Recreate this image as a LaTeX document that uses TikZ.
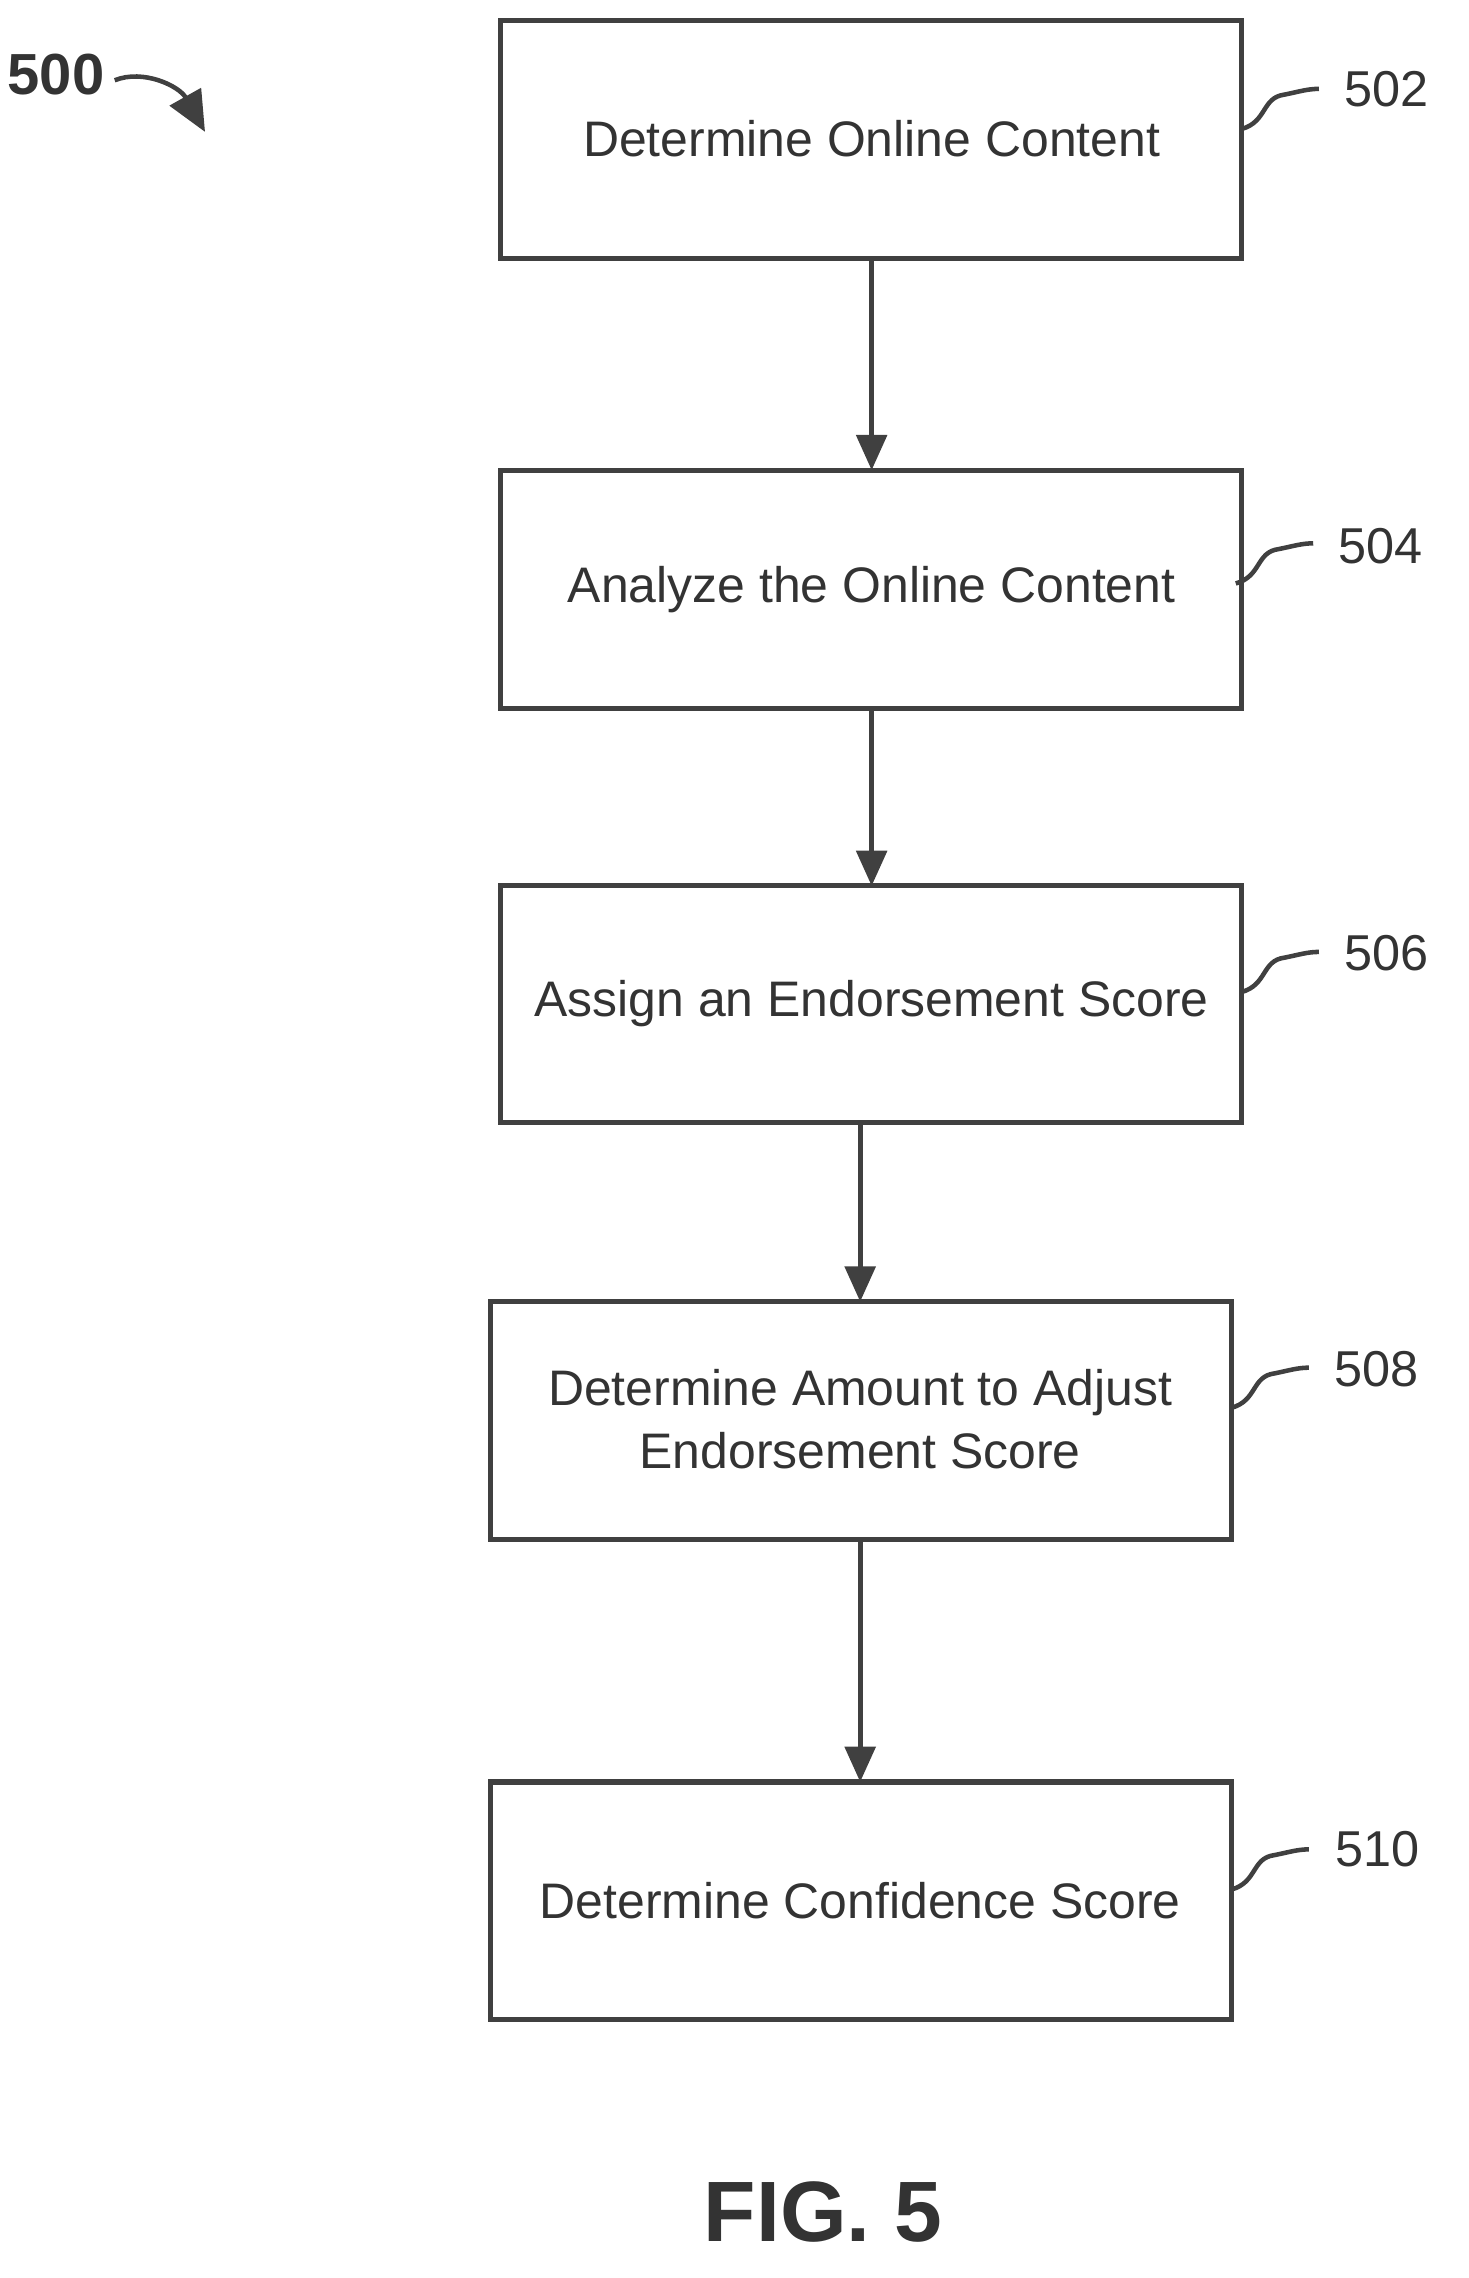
\documentclass[tikz,border=0pt]{standalone}
\usepackage{fontspec}
\setmainfont{Liberation Sans}
\usetikzlibrary{arrows.meta}
\begin{document}
\begin{tikzpicture}[x=0.01cm,y=-0.01cm,
  box/.style={draw=black!75,line width=1pt,fill=white},
  txt/.style={font=\fontsize{9.9pt}{12.5pt}\selectfont,text=black!80,align=center},
  lab/.style={font=\fontsize{10pt}{11pt}\selectfont,text=black!80},
  arr/.style={draw=black!75,line width=1pt,-{Triangle[length=7pt,width=6pt]}},
  lead/.style={draw=black!75,line width=0.9pt}]
\useasboundingbox (0,0) rectangle (1024,1589);
\draw[box] (349,14) rectangle (866,180);
\node[txt] (t1) at (608,97) {Determine Online Content};
\draw[box] (349,328) rectangle (866,494);
\node[txt] (t2) at (608,411) {Analyze the Online Content};
\draw[box] (349,618) rectangle (866,783);
\node[txt] (t3) at (608,700) {Assign an Endorsement Score};
\draw[box] (342,908) rectangle (859,1074);
\node[txt] (t4) at (600,990) {Determine Amount to Adjust\\Endorsement Score};
\draw[box] (342,1243) rectangle (859,1409);
\node[txt] (t5) at (600,1326) {Determine Confidence Score};
\coordinate (a1) at (608,180); \coordinate (b1) at (608,328);
\coordinate (a2) at (608,494); \coordinate (b2) at (608,618);
\coordinate (a3) at (600,783); \coordinate (b3) at (600,908);
\coordinate (a4) at (600,1074); \coordinate (b4) at (600,1243);
\draw[arr] (a1)--(b1); \draw[arr] (a2)--(b2); \draw[arr] (a3)--(b3); \draw[arr] (a4)--(b4);
\node[lab] (l1) at (967,62) {502};
\node[lab] (l2) at (963,381) {504};
\node[lab] (l3) at (967,665) {506};
\node[lab] (l4) at (960,955) {508};
\node[lab] (l5) at (961,1290) {510};
\foreach \x/\y in {866/90,862/407,866/692,859/982,859/1318}{
  \draw[lead] (\x,\y) .. controls (\x+18,\y-5) and (\x+14,\y-22) .. (\x+30,\y-24) .. controls (\x+40,\y-26) and (\x+46,\y-28) .. (\x+54,\y-28);}
\node[font=\bfseries\fontsize{11.5pt}{13pt}\selectfont,text=black!80] (n500) at (39,52) {500};
\draw[lead,-{Triangle[length=8pt,width=7pt]}] (80,56) .. controls (100,48) and (125,60) .. (143,92);
\node[font=\bfseries\fontsize{17pt}{20pt}\selectfont,text=black!80] (fig) at (574,1543) {FIG. 5};
\end{tikzpicture}
\end{document}
